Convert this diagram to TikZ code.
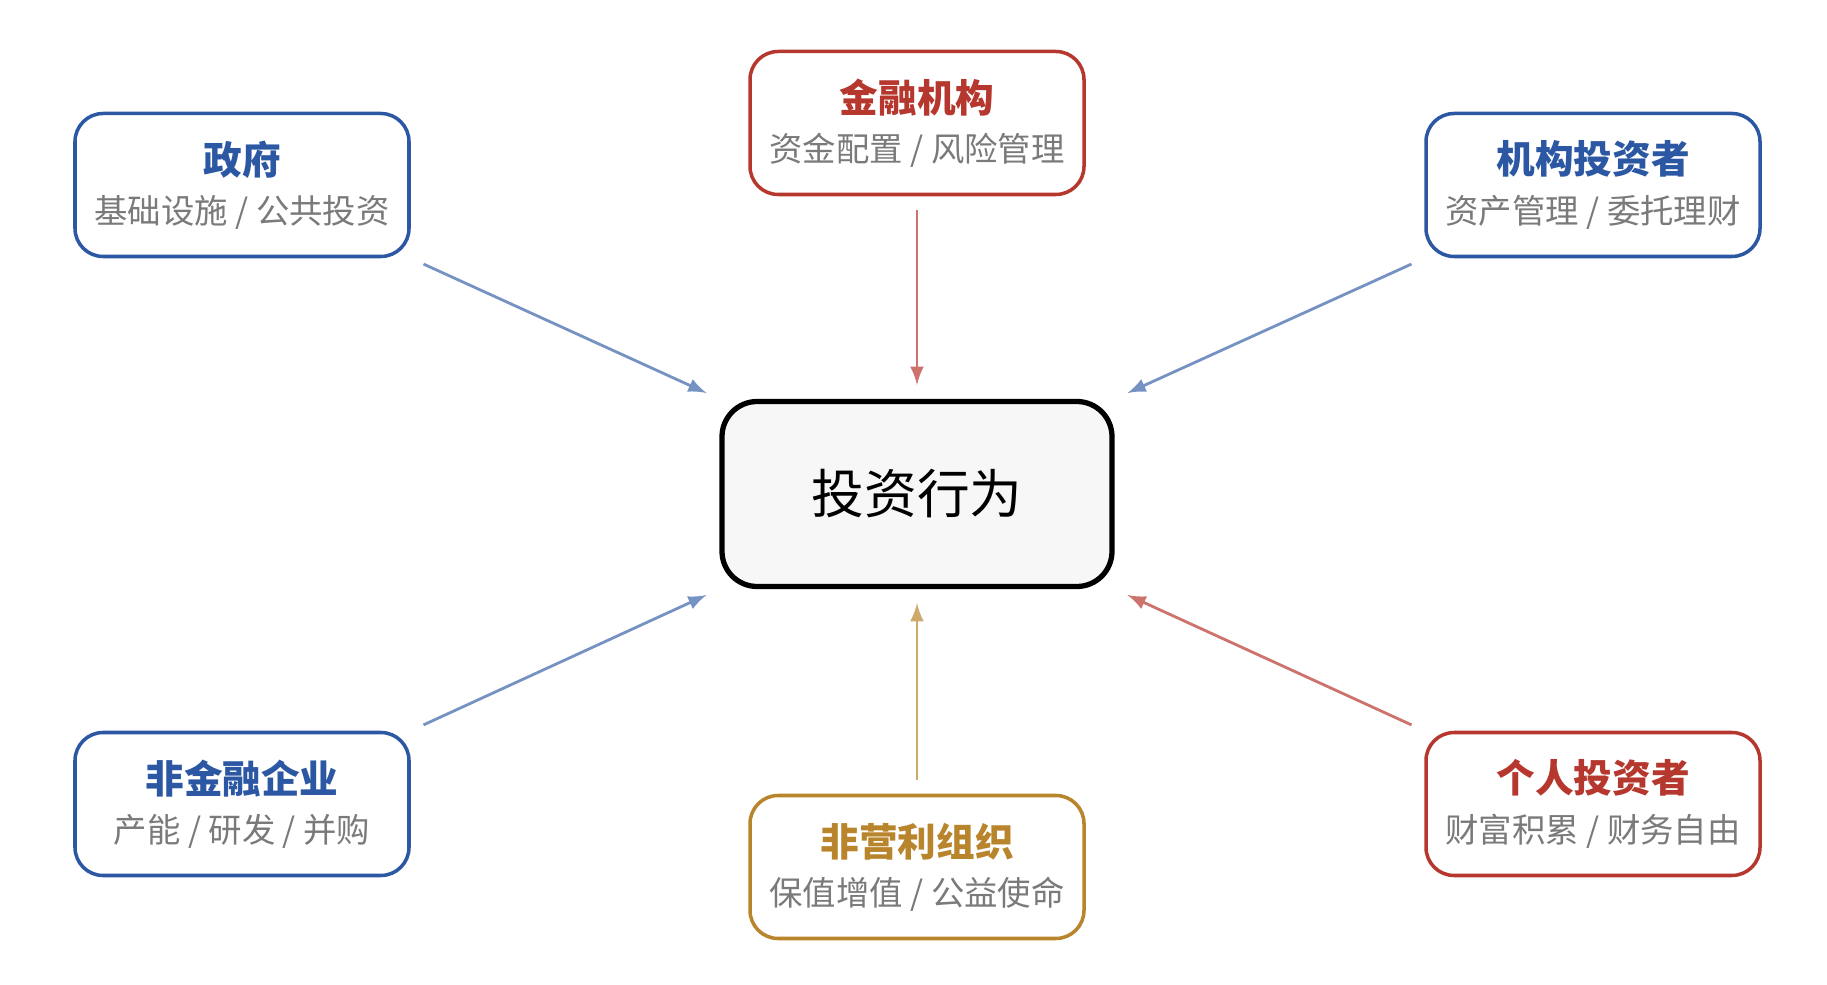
\documentclass[tikz,border=0pt]{standalone}
\usepackage{fontspec}
\setmainfont{Noto Sans CJK SC}
\usetikzlibrary{positioning}
\definecolor{blue}{HTML}{2B57A3}
\definecolor{red}{HTML}{B5372D}
\definecolor{gold}{HTML}{B8842C}
\definecolor{txtgray}{HTML}{7A7A7A}
\definecolor{ctrfill}{HTML}{F7F7F7}
\tikzset{
  actor/.style={draw,rounded corners=8pt,line width=1pt,fill=white,minimum width=3.34cm,minimum height=1.43cm,align=center,inner sep=0pt},
  link/.style={-latex,line width=0.8pt,shorten >=4pt,shorten <=4pt}
}
\newcommand{\actortext}[3]{{\fontsize{11pt}{14pt}\selectfont\bfseries\color{#1}#2}\\[2pt]{\fontsize{9.5pt}{12pt}\selectfont\color{txtgray}#3}}
\begin{document}
\begin{tikzpicture}
\useasboundingbox (0,0) rectangle (18.27,9.84);
    \node[draw,rounded corners=10pt,line width=1.5pt,fill=ctrfill,minimum width=3.9cm,minimum height=1.85cm] (invest) at (9.17,4.90) {\fontsize{15pt}{18pt}\selectfont 投资行为};

    % participants
    \node[actor,draw=blue] (gov) at (2.42,7.99) {\actortext{blue}{政府}{基础设施 / 公共投资}};
    \node[actor,draw=red] (bank) at (9.17,8.61) {\actortext{red}{金融机构}{资金配置 / 风险管理}};
    \node[actor,draw=blue] (inst) at (15.93,7.99) {\actortext{blue}{机构投资者}{资产管理 / 委托理财}};
    \node[actor,draw=blue] (firm) at (2.42,1.80) {\actortext{blue}{非金融企业}{产能 / 研发 / 并购}};
    \node[actor,draw=gold] (npo) at (9.17,1.17) {\actortext{gold}{非营利组织}{保值增值 / 公益使命}};
    \node[actor,draw=red] (person) at (15.93,1.80) {\actortext{red}{个人投资者}{财富积累 / 财务自由}};

    % connectors
    \draw[link,blue!65!white] (gov.south east) -- (invest.north west);
    \draw[link,red!70!white] (bank) -- (invest);
    \draw[link,blue!65!white] (inst.south west) -- (invest.north east);
    \draw[link,blue!65!white] (firm.north east) -- (invest.south west);
    \draw[link,gold!70!white] (npo) -- (invest);
    \draw[link,red!70!white] (person.north west) -- (invest.south east);
\end{tikzpicture}
\end{document}
